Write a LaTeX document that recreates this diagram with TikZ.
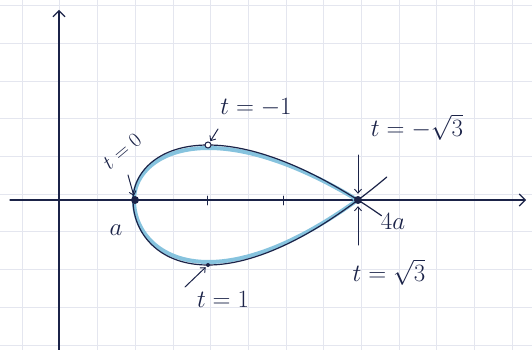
\documentclass[tikz,border=0pt]{standalone}
\usetikzlibrary{arrows.meta}
\definecolor{ink}{HTML}{1B2348}
\definecolor{band}{HTML}{86C3DE}
\definecolor{gridc}{HTML}{E4E6EF}
\tikzset{
  ink/.style={draw=ink, line width=1.1pt, line cap=round},
  axisline/.style={ink, line width=1.2pt, -{Straight Barb[length=6pt,width=12pt,line width=1.1pt]}},
  arr/.style={ink, line width=1pt, -{Straight Barb[length=4pt,width=7pt,line width=0.9pt]}},
  fulldot/.style={circle, fill=ink, inner sep=0pt, minimum size=8pt},
  smalldot/.style={circle, fill=ink, inner sep=0pt, minimum size=4pt},
  opendot/.style={circle, draw=ink, fill=white, line width=1pt, inner sep=0pt, minimum size=6pt},
  lbl/.style={text=ink, inner sep=0pt, font=\fontsize{24}{28}\selectfont},
}
\begin{document}
\begin{tikzpicture}[x=1pt,y=-1pt]
\useasboundingbox (0,0) rectangle (532,350);
\fill[white] (0,0) rectangle (532,350);
% graph paper
\foreach \i in {0,...,13} \draw[gridc, line width=0.5pt] ({22+37.7*\i},0) -- ({22+37.7*\i},350);
\foreach \j in {0,...,9} \draw[gridc, line width=0.5pt] (0,{5.5+37.7*\j}) -- (532,{5.5+37.7*\j});
% axes
\coordinate (xs) at (10,200);
\coordinate (xe) at (526,200);
\coordinate (ys) at (59,350);
\coordinate (ye) at (59,10);
\draw[axisline] (xs) -- (xe);
\draw[axisline] (ys) -- (ye);
% ticks
\coordinate (t1a) at (207,196); \coordinate (t1b) at (207,205);
\coordinate (t2a) at (283,196); \coordinate (t2b) at (283,205);
\draw[ink, line width=0.9pt] (t1a) -- (t1b);
\draw[ink, line width=0.9pt] (t2a) -- (t2b);
% blue band
\draw[band, line width=4pt, line cap=round] plot[domain=-1.732:0, samples=60, variable=\t] ({59.5+74.5*(1+\t*\t)}, {200-26*\t*(\t*\t-3)});
\draw[band, line width=4pt, line cap=round] plot[domain=0:1.732, samples=60, variable=\t] ({59.5+74.5*(1+\t*\t)}, {200-31*\t*(\t*\t-3)});
% curve
\draw[ink, line width=1.2pt] plot[domain=-1.82:0, samples=70, variable=\t] ({58+75*(1+\t*\t)}, {200-27.5*\t*(\t*\t-3)});
\draw[ink, line width=1.2pt] plot[domain=0:1.84, samples=70, variable=\t] ({58+75*(1+\t*\t)}, {200-32.5*\t*(\t*\t-3)});
% points
\node[fulldot] (A) at (135,200) {};
\node[fulldot] (B) at (358,200) {};
\node[opendot] (P) at (208,145) {};
\node[smalldot] (Q) at (208,265) {};
% labels
\node[lbl, rotate=40, font=\fontsize{22}{26}\selectfont] (l0) at (122,151) {$t=0$};
\node[lbl] (la) at (116,230) {$a$};
\node[lbl] (lm1) at (256,108) {$t=-1$};
\node[lbl] (l1) at (223,299) {$t=1$};
\node[lbl] (lms) at (417,127) {$t=-\sqrt{3}$};
\node[lbl] (l4a) at (393,221) {$4a$};
\node[lbl] (ls) at (389,272) {$t=\sqrt{3}$};
% arrows
\coordinate (a0) at (128,175);
\draw[arr] (a0) -- (A);
\coordinate (am1) at (218,129);
\draw[arr, shorten >=1pt] (am1) -- (P);
\coordinate (a1) at (185,287);
\draw[arr, shorten >=1pt] (a1) -- (Q);
\coordinate (ams) at (358,155);
\draw[arr, shorten >=2pt] (ams) -- (B);
\coordinate (as) at (358,245);
\draw[arr, shorten >=2pt] (as) -- (B);
\end{tikzpicture}
\end{document}
